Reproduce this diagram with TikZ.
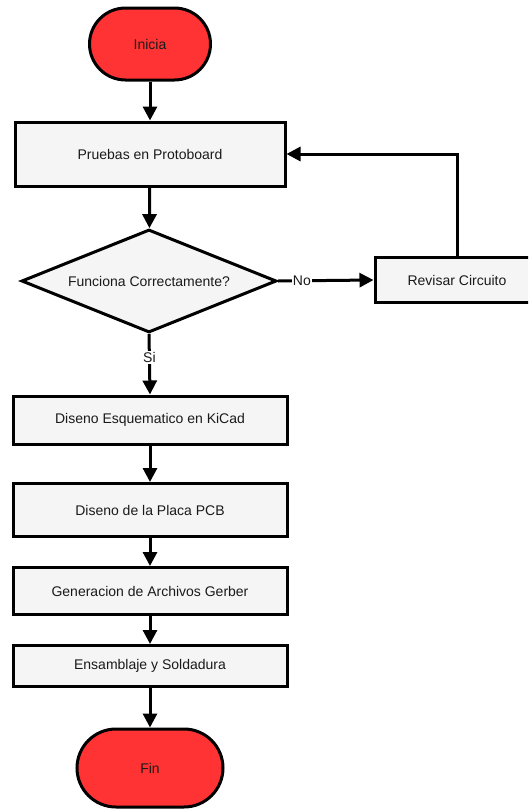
\documentclass[tikz,border=0pt]{standalone}
\usepackage{fontspec}
\setmainfont{Liberation Sans}
\usetikzlibrary{shapes.geometric,arrows.meta}
\definecolor{termred}{RGB}{255,51,51}
\definecolor{stepgray}{RGB}{245,245,245}
\definecolor{labeltext}{RGB}{26,26,26}
\tikzset{
  base/.style={draw=black, line width=3pt, inner sep=0pt, text=labeltext,
    font=\fontsize{14}{16}\selectfont},
  terminal/.style={base, fill=termred, rectangle},
  stepbox/.style={base, fill=stepgray, rectangle, minimum width=274pt},
  decision/.style={base, fill=stepgray, diamond, aspect=2.5},
  flow/.style={line width=3pt, -{Triangle[length=14pt,width=14pt]}},
  edgelabel/.style={fill=white, inner sep=1pt, text=labeltext,
    font=\fontsize{14}{16}\selectfont}
}
\begin{document}
\begin{tikzpicture}[x=1pt,y=-1pt]
  \clip (0,0) rectangle (528,811);
  \fill[white] (0,0) rectangle (528,811);

  % terminals
  \node[terminal, minimum width=121pt, minimum height=72pt, rounded corners=36pt]
    (start) at (150,44) {Inicia};
  \node[terminal, minimum width=146pt, minimum height=78pt, rounded corners=39pt]
    (end) at (150,768) {Fin};

  % process steps
  \node[stepbox, minimum width=270pt, minimum height=64pt] (proto) at (150,154) {Pruebas en Protoboard};
  \node[decision, minimum width=255pt, minimum height=103pt] (check) at (149,281) {Funciona Correctamente?};
  \node[stepbox, minimum width=164pt, minimum height=45pt] (review) at (457,280) {Revisar Circuito};
  \node[stepbox, minimum height=48pt] (schem) at (150,420) {Diseno Esquematico en KiCad};
  \node[stepbox, minimum height=53pt] (pcb) at (150,510) {Diseno de la Placa PCB};
  \node[stepbox, minimum height=47pt] (gerber) at (150,591) {Generacion de Archivos Gerber};
  \node[stepbox, minimum height=41pt] (solder) at (150,666) {Ensamblaje y Soldadura};

  % connectors
  \draw[flow] (start) -- (proto);
  \draw[flow] (proto) -- (check);
  \draw[flow] (check.east) -- node[edgelabel, pos=0.25] {No} (review.west);
  \draw[flow] (review.north) |- (proto.east);
  \draw[flow] (check.south) -- node[edgelabel, pos=0.39] {Si} (schem.north);
  \draw[flow] (schem) -- (pcb);
  \draw[flow] (pcb) -- (gerber);
  \draw[flow] (gerber) -- (solder);
  \draw[flow] (solder) -- (end);
\end{tikzpicture}
\end{document}
